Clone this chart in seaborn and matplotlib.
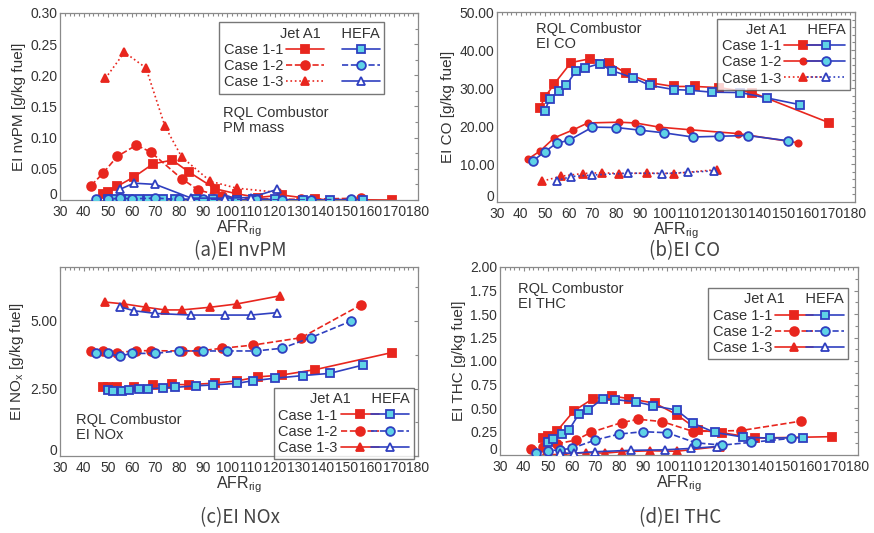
import numpy as np
import pandas as pd
import matplotlib
matplotlib.use("Agg")
import matplotlib.pyplot as plt
from matplotlib.lines import Line2D
from matplotlib.ticker import MultipleLocator, FuncFormatter
import matplotlib.transforms as mtransforms
import seaborn as sns

# ---------------- data ----------------
# AFR_rig operating points per fuel / case
AFR_J11 = [48, 50, 54, 61, 69, 77, 84, 95, 104, 113, 123, 137, 169]
AFR_H11 = [50, 52, 56, 59, 63, 67, 73, 78, 87, 94, 104, 111, 120, 132, 143, 157]
AFR_J12 = [43, 48, 54, 62, 68, 81, 88, 98, 111, 131, 156]
AFR_H12 = [45, 50, 55, 60, 70, 80, 90, 100, 112, 123, 135, 152]
AFR_J13 = [49, 57, 66, 74, 81, 93, 104, 122]
AFR_H13 = [55, 61, 70, 85, 99, 110, 121]

# (a) EI nvPM [g/kg fuel]
NVPM_J11 = [0.009, 0.013, 0.022, 0.037, 0.058, 0.064, 0.045, 0.018, 0.010, 0.004, 0.008, 0.001, 0.0]
NVPM_H11 = [0.001, 0.0015, 0.001, 0.002, 0.001, 0.001, 0.002, 0.001, 0.001, 0.001, 0.0, 0.001, 0.001, 0.0, 0.0, 0.0]
NVPM_J12 = [0.023, 0.043, 0.070, 0.088, 0.077, 0.034, 0.016, 0.006, 0.002, 0.001, 0.003]
NVPM_H12 = [0.001, 0.001, 0.003, 0.002, 0.003, 0.001, 0.001, 0.0, 0.001, 0.0, 0.0, 0.001]
NVPM_J13 = [0.195, 0.237, 0.212, 0.118, 0.069, 0.030, 0.019, 0.012]
NVPM_H13 = [0.017, 0.027, 0.025, 0.003, 0.003, 0.004, 0.017]

# (b) EI CO [g/kg fuel]
CO_J11 = [24.8, 27.5, 31.1, 36.7, 37.7, 36.6, 33.9, 31.3, 30.4, 30.4, 30.1, 28.8, 20.9]
CO_H11 = [24.0, 27.0, 29.2, 30.7, 34.4, 35.3, 36.4, 34.6, 32.7, 30.7, 29.6, 29.4, 28.9, 28.8, 27.4, 25.6]
CO_J12 = [11.3, 13.4, 16.9, 19.0, 20.8, 21.0, 20.8, 19.7, 19.0, 18.0, 15.6]
CO_H12 = [10.8, 13.2, 15.5, 16.2, 19.7, 19.6, 18.9, 18.2, 17.1, 17.3, 17.5, 16.1]
CO_J13 = [5.5, 6.8, 7.5, 7.7, 7.5, 7.6, 7.5, 8.5]
CO_H13 = [5.6, 6.7, 7.1, 7.6, 7.5, 7.8, 8.2]

# (c) EI NOx [g/kg fuel]
NOX_J11 = [2.55, 2.55, 2.54, 2.56, 2.62, 2.65, 2.64, 2.70, 2.78, 2.93, 3.00, 3.20, 3.83]
NOX_H11 = [2.44, 2.42, 2.42, 2.45, 2.47, 2.48, 2.53, 2.54, 2.60, 2.63, 2.69, 2.79, 2.88, 2.98, 3.06, 3.37]
NOX_J12 = [3.89, 3.89, 3.83, 3.90, 3.90, 3.89, 3.89, 3.99, 4.11, 4.38, 5.59]
NOX_H12 = [3.80, 3.80, 3.70, 3.80, 3.80, 3.90, 3.89, 3.89, 3.89, 3.99, 4.38, 5.00]
NOX_J13 = [5.70, 5.63, 5.51, 5.41, 5.41, 5.51, 5.63, 5.93]
NOX_H13 = [5.53, 5.38, 5.28, 5.22, 5.22, 5.22, 5.31]

# (d) EI THC [g/kg fuel]
THC_J11 = [0.18, 0.20, 0.26, 0.47, 0.60, 0.627, 0.60, 0.55, 0.43, 0.265, 0.237, 0.18, 0.195]
THC_H11 = [0.14, 0.17, 0.22, 0.27, 0.435, 0.48, 0.60, 0.59, 0.566, 0.525, 0.478, 0.336, 0.24, 0.19, 0.18, 0.185]
THC_J12 = [0.06, 0.09, 0.12, 0.16, 0.24, 0.345, 0.38, 0.355, 0.25, 0.26, 0.36]
THC_H12 = [0.025, 0.045, 0.055, 0.07, 0.16, 0.223, 0.248, 0.237, 0.13, 0.105, 0.134, 0.177]
THC_J13 = [0.0, 0.01, 0.025, 0.02, 0.035, 0.045, 0.04, 0.09]
THC_H13 = [0.02, 0.02, 0.035, 0.05, 0.055, 0.07, 0.09]

CASES = ["Case 1-1", "Case 1-2", "Case 1-3"]
FUELS = ["Jet A1", "HEFA"]
CAPTIONS = ["(a)EI nvPM", "(b)EI CO", "(c)EI NOx", "(d)EI THC"]

# ---------------- style ----------------
sns.set_theme(style="white")
plt.rcParams['font.family'] = ['Liberation Sans', 'DejaVu Sans']
plt.rcParams['mathtext.fontset'] = 'custom'
plt.rcParams['mathtext.rm'] = 'Liberation Sans'
plt.rcParams['mathtext.it'] = 'Liberation Sans'

RED = "#e8261e"
BLUE = "#2f3fc0"
CYAN = "#5fd3e6"
GRID = "#8a8a8a"
TXT = "#333333"

MARK = {"Case 1-1": "s", "Case 1-2": "o", "Case 1-3": "^"}
FACE_H = {"Case 1-1": CYAN, "Case 1-2": CYAN, "Case 1-3": "white"}

def build(afrs, vals):
    rows = []
    for (fuel, case), x, y in zip(
            [("Jet A1", "Case 1-1"), ("HEFA", "Case 1-1"), ("Jet A1", "Case 1-2"),
             ("HEFA", "Case 1-2"), ("Jet A1", "Case 1-3"), ("HEFA", "Case 1-3")], afrs, vals):
        for xi, yi in zip(x, y):
            rows.append({"fuel": fuel, "case": case, "AFR": xi, "EI": yi})
    return pd.DataFrame(rows)

AFRS = [AFR_J11, AFR_H11, AFR_J12, AFR_H12, AFR_J13, AFR_H13]
DFS = [
    build(AFRS, [NVPM_J11, NVPM_H11, NVPM_J12, NVPM_H12, NVPM_J13, NVPM_H13]),
    build(AFRS, [CO_J11, CO_H11, CO_J12, CO_H12, CO_J13, CO_H13]),
    build(AFRS, [NOX_J11, NOX_H11, NOX_J12, NOX_H12, NOX_J13, NOX_H13]),
    build(AFRS, [THC_J11, THC_H11, THC_J12, THC_H12, THC_J13, THC_H13]),
]

# line styles per panel: (jet, hefa) for each case
STYLES = [
    {"Case 1-1": ("-", "-"), "Case 1-2": ("--", "--"), "Case 1-3": (":", "-")},
    {"Case 1-1": ("-", "-"), "Case 1-2": ("-", "-"), "Case 1-3": (":", ":")},
    {"Case 1-1": ("-", "-"), "Case 1-2": ("--", "--"), "Case 1-3": ("-", "-")},
    {"Case 1-1": ("-", "-"), "Case 1-2": ("--", "--"), "Case 1-3": ("-", "-")},
]

YLABELS = ["EI nvPM [g/kg fuel]", "EI CO [g/kg fuel]", r"EI NO$_x$ [g/kg fuel]", "EI THC [g/kg fuel]"]
YLIMS = [(0, 0.30), (0, 50), (0, 7.0), (0, 2.0)]
YMAJ = [0.05, 10, 2.5, 0.25]
YMIN = [0.025, 2, 1.25, 0.125]
YFMT = ["{:.2f}", "{:.2f}", "{:.2f}", "{:.2f}"]
NOTES = ["RQL Combustor\nPM mass", "RQL Combustor\nEI CO", "RQL Combustor\nEI NOx", "RQL Combustor\nEI THC"]
NOTE_POS = [(0.455, 0.50), (0.11, 0.945), (0.045, 0.225), (0.05, 0.92)]
LEG_BOX = [(0.445, 0.58, 0.46, 0.37), (0.615, 0.675, 0.37, 0.29),
           (0.598, 0.03, 0.39, 0.33), (0.582, 0.553, 0.39, 0.335)]

W, H = 874, 533
fig = plt.figure(figsize=(W / 100, H / 100), dpi=100)
RECTS_PX = [(60, 13, 358, 187), (497, 12, 358, 190), (60, 267, 358, 189), (500, 267, 358, 188)]
CAP_POS_PX = [(240, 251), (685, 251), (240, 518), (680, 518)]

axes = []
for i, (df, rect) in enumerate(zip(DFS, RECTS_PX)):
    l, t, w, h = rect
    ax = fig.add_axes([l / W, 1 - (t + h) / H, w / W, h / H])
    axes.append(ax)
    handles_j, handles_h = [], []
    for case in CASES:
        ls_j, ls_h = STYLES[i][case]
        for fuel in FUELS:
            sub = df[(df.fuel == fuel) & (df.case == case)]
            if fuel == "Jet A1":
                kw = dict(color=RED, marker=MARK[case], markerfacecolor=RED,
                          markeredgecolor=RED, linestyle=ls_j)
                ms = 4.5 if (i == 1 and case == "Case 1-2") else 6.3
            else:
                kw = dict(color=BLUE, marker=MARK[case], markerfacecolor=FACE_H[case],
                          markeredgecolor=BLUE, linestyle=ls_h)
                ms = 6.3
            sns.lineplot(data=sub, x="AFR", y="EI", ax=ax, sort=False, estimator=None,
                         linewidth=1.2, markersize=ms, markeredgewidth=1.3,
                         legend=False, zorder=3 if fuel == "HEFA" else 2, **kw)
            h_ = Line2D([], [], linewidth=1.2, markersize=ms, markeredgewidth=1.3, **kw)
            (handles_j if fuel == "Jet A1" else handles_h).append(h_)

    ax.set_xlim(30, 180)
    ax.set_ylim(*YLIMS[i])
    ax.xaxis.set_major_locator(MultipleLocator(10))
    ax.xaxis.set_minor_locator(MultipleLocator(2))
    ax.yaxis.set_major_locator(MultipleLocator(YMAJ[i]))
    ax.yaxis.set_minor_locator(MultipleLocator(YMIN[i]))
    fmt = YFMT[i]
    ax.yaxis.set_major_formatter(FuncFormatter(lambda v, p, f=fmt: "0" if abs(v) < 1e-9 else f.format(v)))
    if i == 2:
        ax.set_yticks([0, 2.5, 5.0])
    ax.tick_params(which="both", direction="in", top=True, right=True, color=GRID,
                   labelsize=10, labelcolor=TXT)
    ax.tick_params(axis="x", pad=3.5)
    ax.tick_params(axis="y", pad=2)
    ax.tick_params(which="major", length=3, width=0.8)
    ax.tick_params(which="minor", length=2, width=0.8)
    for s in ax.spines.values():
        s.set_color(GRID)
        s.set_linewidth(0.9)
    ax.set_xlabel(r"AFR$_{\mathrm{rig}}$", fontsize=11.5, color=TXT, labelpad=0)
    ax.set_ylabel(YLABELS[i], fontsize=11, color=TXT, labelpad=3)

    ax.text(NOTE_POS[i][0], NOTE_POS[i][1], NOTES[i], transform=ax.transAxes,
            fontsize=10.5, color=TXT, va="top", ha="left", linespacing=1.05)

    leg = ax.legend(handles=handles_j + handles_h,
                    labels=CASES + ["", "", ""], ncol=2, markerfirst=False,
                    title="Jet A1     HEFA", title_fontsize=10.5, fontsize=10.5,
                    loc="upper right", bbox_to_anchor=LEG_BOX[i], mode="expand",
                    frameon=True, fancybox=False, handlelength=2.6, handletextpad=0.2,
                    columnspacing=0.6, labelspacing=0.15, borderpad=0.3,
                    borderaxespad=0.0, alignment="right")
    leg.get_frame().set_edgecolor("#555555")
    leg.get_frame().set_linewidth(1.0)
    for tx in leg.get_texts():
        tx.set_color(TXT)
    leg.get_title().set_color(TXT)

    cx, cy = CAP_POS_PX[i]
    fig.text(cx / W, 1 - cy / H, CAPTIONS[i], ha="center", va="center", fontsize=13.5,
             color="#444444", family=["Noto Sans CJK JP", "DejaVu Sans"])

# nudge the "0" y tick label up a little so it clears the "30" x tick label
fig.canvas.draw()
for ax in axes:
    for tick in ax.yaxis.get_major_ticks():
        if abs(tick.get_loc()) < 1e-12:
            tick.label1.set_verticalalignment("bottom")
            tick.label1.set_transform(tick.label1.get_transform() +
                                      mtransforms.ScaledTranslation(0, -1.5 / 72, fig.dpi_scale_trans))

fig.savefig("out.png", dpi=100, facecolor="white")
